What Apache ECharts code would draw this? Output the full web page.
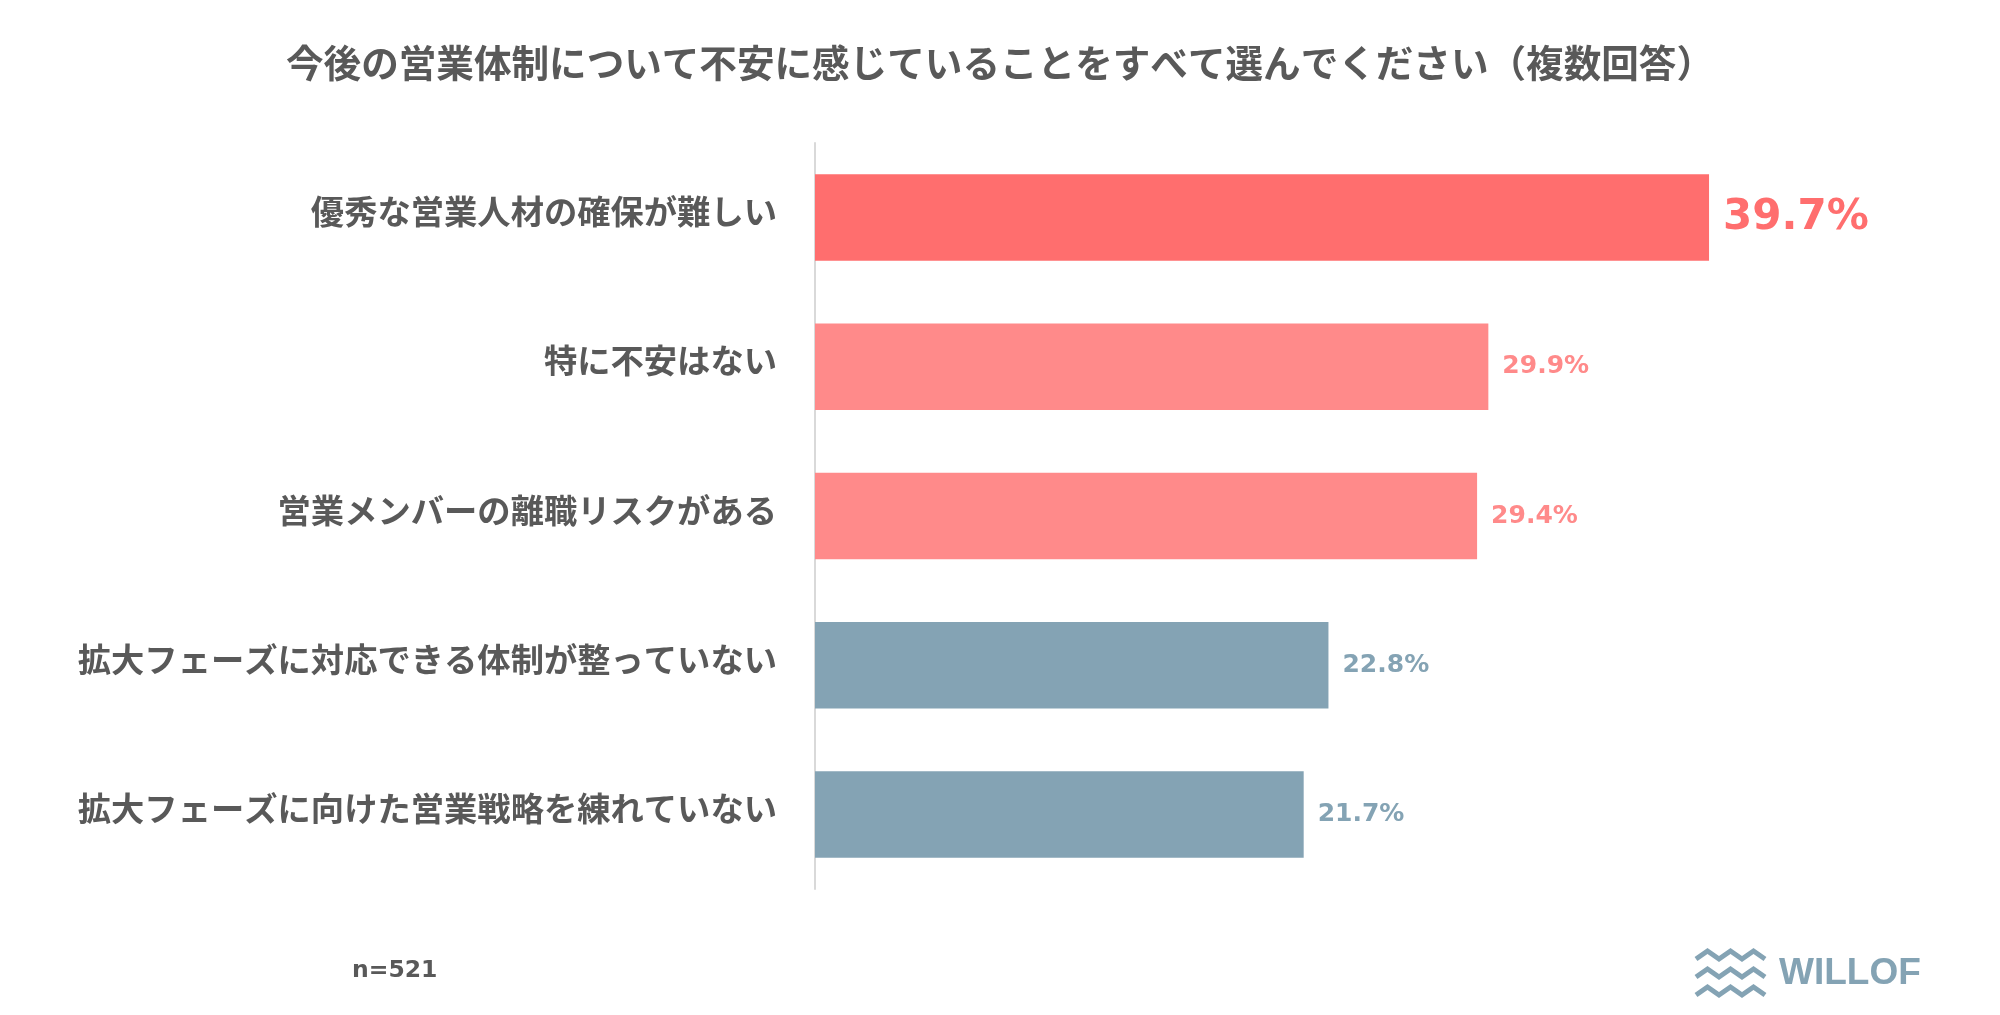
<!DOCTYPE html>
<html>
<head>
<meta charset="utf-8">
<script src="https://cdn.jsdelivr.net/npm/echarts@6/dist/echarts.min.js"></script>
<style>
html,body{margin:0;padding:0;background:#fff;}
#chart{width:2000px;height:1015px;}
</style>
</head>
<body>
<div id="chart"></div>
<script>
const titleText = '今後の営業体制について不安に感じていることをすべて選んでください（複数回答）';
const categories = [
  '優秀な営業人材の確保が難しい',
  '特に不安はない',
  '営業メンバーの離職リスクがある',
  '拡大フェーズに対応できる体制が整っていない',
  '拡大フェーズに向けた営業戦略を練れていない'
];
const values = [39.7, 29.9, 29.4, 22.8, 21.7];
const sampleNote = 'n=521';
const brandName = 'WILLOF';

const barColors = ['#FF6E6E', '#FF8A8A', '#FF8A8A', '#84A3B4', '#84A3B4'];
const gray = '#595959';
const logoColor = '#84A3B4';

const chart = echarts.init(document.getElementById('chart'));

const seriesData = values.map((v, i) => {
  const item = {
    value: v,
    itemStyle: { color: barColors[i] },
    label: { color: barColors[i] }
  };
  if (i === 0) {
    item.label.fontSize = 42;
  }
  return item;
});

function zigzag(y) {
  const pts = [];
  const x0 = 1696, step = 11.5;
  for (let k = 0; k <= 6; k++) {
    pts.push([x0 + k * step, y + (k % 2 === 0 ? 4 : -4)]);
  }
  return {
    type: 'polyline',
    shape: { points: pts },
    style: { stroke: logoColor, lineWidth: 5, fill: null, lineJoin: 'miter' }
  };
}

chart.setOption({
  animation: false,
  backgroundColor: '#ffffff',
  title: {
    text: titleText,
    left: 'center',
    top: 39,
    textStyle: {
      fontFamily: 'Noto Sans CJK JP',
      fontWeight: 'bold',
      fontSize: 37.6,
      color: gray
    }
  },
  grid: {
    left: 815,
    top: 143,
    width: 1126,
    height: 746,
    containLabel: false
  },
  xAxis: {
    type: 'value',
    min: 0,
    max: 50,
    show: false
  },
  yAxis: {
    type: 'category',
    data: categories,
    inverse: true,
    axisLine: { show: true, lineStyle: { color: '#D9D9D9', width: 2 } },
    axisTick: { show: false },
    axisLabel: {
      margin: 38,
      color: gray,
      fontFamily: 'Noto Sans CJK JP',
      fontWeight: 'bold',
      fontSize: 33.3,
      verticalAlign: 'bottom',
      lineHeight: 12
    }
  },
  series: [{
    type: 'bar',
    data: seriesData,
    barCategoryGap: '42%',
    label: {
      show: true,
      position: 'right',
      distance: 14,
      formatter: p => p.value + '%',
      fontFamily: 'DejaVu Sans',
      fontWeight: 'bold',
      fontSize: 25
    }
  }],
  graphic: [
    {
      type: 'text',
      left: 352,
      top: 959,
      style: {
        text: sampleNote,
        fill: gray,
        font: 'bold 23.5px "DejaVu Sans"'
      }
    },
    zigzag(955),
    zigzag(973),
    zigzag(991),
    {
      type: 'text',
      left: 1779,
      top: 955,
      style: {
        text: brandName,
        fill: logoColor,
        font: 'bold 37px "Liberation Sans"'
      }
    }
  ]
});
</script>
</body>
</html>
